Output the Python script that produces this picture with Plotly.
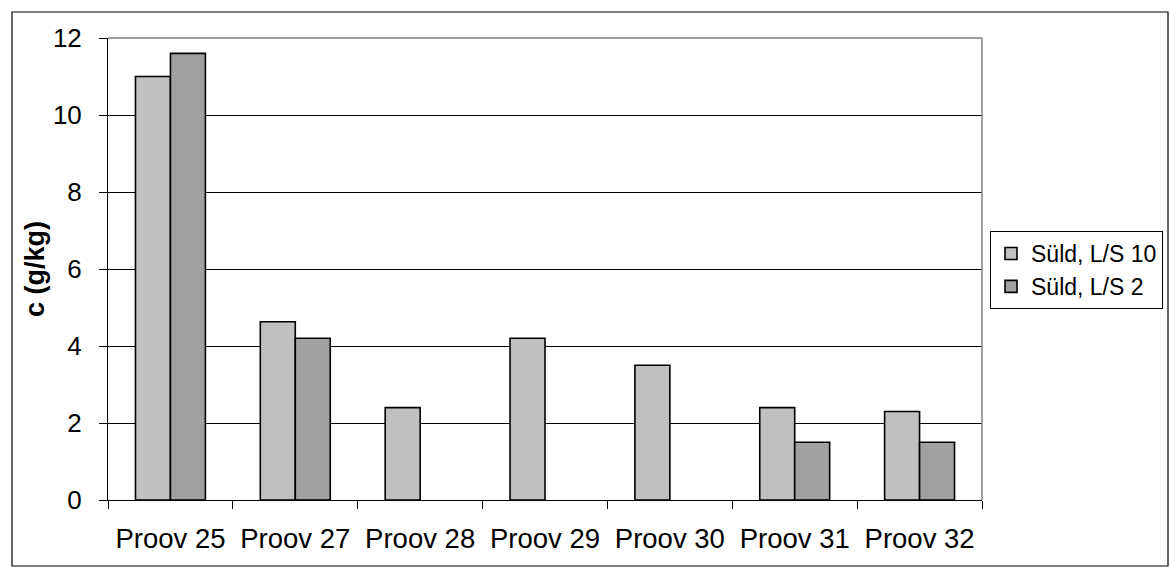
import plotly.graph_objects as go

# Sample labels and measured concentrations (g/kg)
samples = ["Proov 25", "Proov 27", "Proov 28", "Proov 29", "Proov 30", "Proov 31", "Proov 32"]
ls10 = [11.0, 4.63, 2.4, 4.2, 3.5, 2.4, 2.3]
ls2 = [11.6, 4.2, None, None, None, 1.5, 1.5]
y_ticks = [0, 2, 4, 6, 8, 10, 12]

FONT = "Liberation Sans, Arial, sans-serif"

fig = go.Figure()
fig.add_trace(go.Bar(name="Süld, L/S 10", x=samples, y=ls10,
                     marker=dict(color="#C0C0C0", line=dict(color="#000000", width=1.6))))
fig.add_trace(go.Bar(name="Süld, L/S 2", x=samples, y=ls2,
                     marker=dict(color="#A0A0A0", line=dict(color="#000000", width=1.6))))

W, H = 1170, 568
L, R, T, B = 108, 982, 38, 500
pw, ph = R - L, B - T

def px(x):
    return (x - L) / pw

def py(y):
    return (B - y) / ph

fig.update_layout(
    width=W, height=H,
    margin=dict(l=L, r=W - R, t=T, b=H - B, autoexpand=False),
    paper_bgcolor="white", plot_bgcolor="white",
    barmode="group", bargap=0.44, bargroupgap=0,
    font=dict(family=FONT, size=26, color="#000000"),
    showlegend=True,
    legend=dict(x=px(990), xanchor="left", y=py(231), yanchor="top",
                bordercolor="#000000", borderwidth=1, bgcolor="white",
                font=dict(size=23, family=FONT)),
    xaxis=dict(showgrid=False, showline=True, linecolor="#000000", linewidth=1,
               ticks="outside", tickson="boundaries", ticklen=8, tickcolor="#000000",
               tickfont=dict(size=27.5), ticklabelstandoff=14),
    yaxis=dict(range=[0, 12], tickvals=y_ticks, showgrid=True, gridcolor="#000000",
               gridwidth=1, showline=True, linecolor="#000000", linewidth=1,
               ticks="outside", ticklen=8, tickcolor="#000000",
               tickfont=dict(size=26), ticklabelstandoff=12, zeroline=False,
               title=dict(text="<b>c (g/kg)</b>", font=dict(size=27), standoff=0)),
)

# plot-area frame (top and right edges)
fig.add_shape(type="line", xref="paper", yref="paper", x0=0, x1=1, y0=1, y1=1,
              line=dict(color="#808080", width=1.5))
fig.add_shape(type="line", xref="paper", yref="paper", x0=1, x1=1, y0=0, y1=1,
              line=dict(color="#808080", width=1.5))
# outer chart border
fig.add_shape(type="rect", xref="paper", yref="paper",
              x0=px(12), x1=px(1168), y0=py(566), y1=py(12),
              line=dict(color="#000000", width=1.2), layer="below")

fig.write_html("out.html")
